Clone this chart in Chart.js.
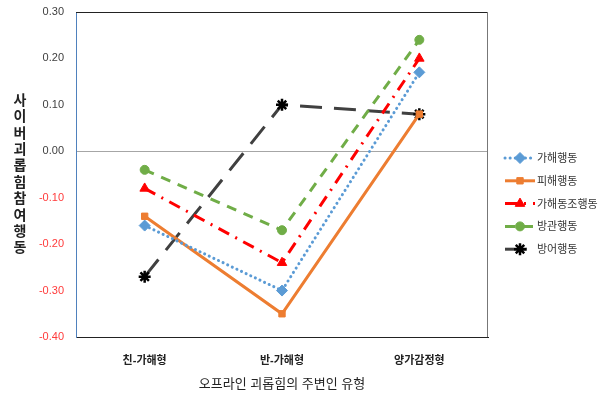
<!DOCTYPE html>
<html>
<head>
<meta charset="utf-8">
<script src="https://cdn.jsdelivr.net/npm/chart.js@4"></script>
<style>
  html, body { margin: 0; padding: 0; background: #fff; }
  #wrap { width: 610px; height: 397px; }
</style>
</head>
<body>
<div id="wrap"><canvas id="chart"></canvas></div>
<script>
const FONT = "'Liberation Sans', 'Noto Sans CJK KR', sans-serif";

const categories = ["친-가해형", "반-가해형", "양가감정형"];
const seriesNames = ["가해행동", "피해행동", "가해동조행동", "방관행동", "방어행동"];
const attack = [-0.16, -0.30, 0.17];
const victim = [-0.14, -0.35, 0.08];
const assist = [-0.08, -0.24, 0.20];
const outsider = [-0.04, -0.17, 0.24];
const defend = [-0.27, 0.10, 0.08];
const yTitleChars = ["사", "이", "버", "괴", "롭", "힘", "참", "여", "행", "동"];
const xTitle = "오프라인 괴롭힘의 주변인 유형";

// 그림 영역 테두리 + 세로 축제목 + 오른쪽 범례
const decor = {
  id: "decor",
  afterDraw(chart) {
    const { ctx, chartArea: a } = chart;
    ctx.save();
    ctx.lineWidth = 1;
    ctx.strokeStyle = "#222";
    ctx.beginPath();
    ctx.moveTo(a.left, a.top + 0.5);
    ctx.lineTo(a.right, a.top + 0.5);
    ctx.stroke();
    ctx.strokeStyle = "#777";
    ctx.beginPath();
    ctx.moveTo(a.right - 0.5, a.top);
    ctx.lineTo(a.right - 0.5, a.bottom);
    ctx.stroke();

    ctx.fillStyle = "#222";
    ctx.font = "bold 14px " + FONT;
    ctx.textAlign = "center";
    ctx.textBaseline = "middle";
    yTitleChars.forEach((c, i) => ctx.fillText(c, 20, 101 + i * 16.4));

    chart.data.datasets.forEach((ds, i) => {
      const y = 158 + i * 22.8;
      ctx.save();
      ctx.strokeStyle = ds.borderColor;
      ctx.lineWidth = ds.borderWidth;
      ctx.lineCap = ds.borderCapStyle || "butt";
      ctx.setLineDash(ds.borderDash || []);
      ctx.beginPath();
      ctx.moveTo(505, y);
      ctx.lineTo(535, y);
      ctx.stroke();
      ctx.restore();
      ctx.fillStyle = ds.pointBackgroundColor;
      ctx.strokeStyle = ds.pointBorderColor;
      ctx.lineWidth = ds.pointBorderWidth;
      ctx.setLineDash([]);
      Chart.helpers.drawPoint(ctx, {
        pointStyle: ds.pointStyle,
        radius: ds.pointRadius,
        borderWidth: ds.pointBorderWidth,
      }, 520, y);
      ctx.fillStyle = "#333";
      ctx.font = "11px " + FONT;
      ctx.textAlign = "left";
      ctx.fillText(ds.label, 537, y + 1);
    });
    ctx.restore();
  },
};

function line(label, data, color, dash, cap, style, radius, marker) {
  return {
    label,
    data,
    borderColor: color,
    backgroundColor: marker || color,
    pointBorderColor: marker || color,
    pointBackgroundColor: marker || color,
    borderWidth: 3,
    borderDash: dash,
    borderCapStyle: cap,
    pointStyle: style,
    pointRadius: radius,
    pointBorderWidth: 1,
    tension: 0,
  };
}

const datasets = [
  line(seriesNames[0], attack, "#5b9bd5", [0.1, 5], "round", "rectRot", 5.5),
  line(seriesNames[1], victim, "#ed7d31", [], "butt", "rect", 4.5),
  line(seriesNames[2], assist, "#ff0000", [12, 7, 2, 7], "butt", "triangle", 5.5),
  line(seriesNames[3], outsider, "#70ad47", [10, 8], "butt", "circle", 4.5),
  line(seriesNames[4], defend, "#404040", [22, 12], "butt", "star", 6, "#000"),
];
datasets[4].pointBorderWidth = 2.5;

new Chart(document.getElementById("chart"), {
  type: "line",
  data: { labels: categories, datasets },
  plugins: [decor],
  options: {
    responsive: true,
    maintainAspectRatio: false,
    animation: false,
    layout: { padding: { top: 12, right: 122, left: 0, bottom: 0 } },
    plugins: { legend: { display: false }, tooltip: { enabled: false } },
    scales: {
      x: {
        offset: true,
        grid: { display: false },
        border: { color: "#222", width: 1 },
        ticks: { padding: 9, color: "#222", font: { family: FONT, size: 11, weight: "bold" } },
        title: {
          display: true,
          text: xTitle,
          color: "#222",
          font: { family: FONT, size: 13 },
          padding: { top: 0, bottom: 5 },
        },
        afterFit: (s) => { s.height = 60; },
      },
      y: {
        min: -0.4,
        max: 0.3,
        border: { color: "#4f81bd", width: 1 },
        grid: {
          drawTicks: false,
          color: (c) => (c.tick && Math.abs(c.tick.value) < 1e-9 ? "#a6a6a6" : "rgba(0,0,0,0)"),
        },
        ticks: {
          stepSize: 0.1,
          padding: 12,
          font: { family: FONT, size: 11 },
          color: (c) => (c.tick.value < -1e-9 ? "#ff3b3b" : "#404040"),
          callback: (v) => (Math.abs(v) < 1e-9 ? 0 : v).toFixed(2),
        },
        afterFit: (s) => { s.width = 76; s.paddingTop = 0; s.paddingBottom = 0; },
      },
    },
  },
});
</script>
</body>
</html>
